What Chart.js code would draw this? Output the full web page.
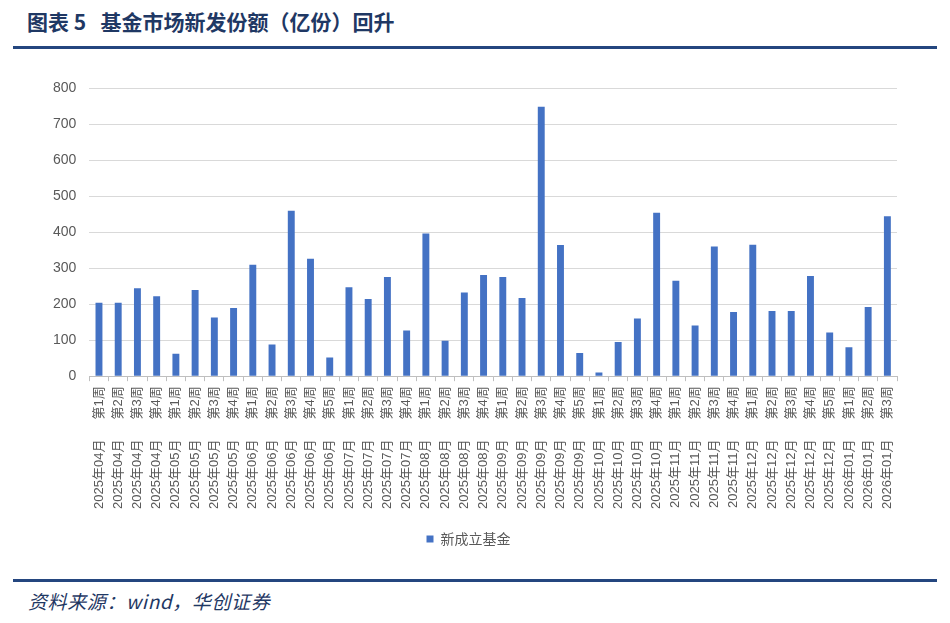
<!DOCTYPE html>
<html>
<head>
<meta charset="utf-8">
<script src="https://cdn.jsdelivr.net/npm/chart.js@4.4.1/dist/chart.umd.min.js"></script>
<style>
  body { margin: 0; background: #fff; width: 950px; height: 623px; overflow: hidden; position: relative; }
  #titulo {
    position: absolute; left: 27px; top: 6px;
    font-family: "Noto Sans CJK SC", sans-serif; font-weight: bold; font-size: 21px;
    color: #1f3864; white-space: pre;
  }
  .linha { position: absolute; left: 13px; width: 924px; height: 3px; background: #24467f; }
  #fonte {
    position: absolute; left: 28px; top: 587px;
    font-family: "Noto Sans CJK SC", serif; font-style: italic; font-size: 19px;
    letter-spacing: 0.6px; color: #1f3864;
  }
  #conteiner { position: absolute; left: 0; top: 60px; width: 950px; height: 500px; }
</style>
</head>
<body>
<div id="titulo">图表 5   基金市场新发份额（亿份）回升</div>
<div class="linha" style="top:46px"></div>
<div id="conteiner"><canvas id="grafico"></canvas></div>
<div class="linha" style="top:579px"></div>
<div id="fonte">资料来源：wind，华创证券</div>

<script>
// dados
const meses = [
  "2025年04月", "2025年04月", "2025年04月", "2025年04月",
  "2025年05月", "2025年05月", "2025年05月", "2025年05月",
  "2025年06月", "2025年06月", "2025年06月", "2025年06月", "2025年06月",
  "2025年07月", "2025年07月", "2025年07月", "2025年07月",
  "2025年08月", "2025年08月", "2025年08月", "2025年08月",
  "2025年09月", "2025年09月", "2025年09月", "2025年09月", "2025年09月",
  "2025年10月", "2025年10月", "2025年10月", "2025年10月",
  "2025年11月", "2025年11月", "2025年11月", "2025年11月",
  "2025年12月", "2025年12月", "2025年12月", "2025年12月", "2025年12月",
  "2026年01月", "2026年01月", "2026年01月",
];
const semanas = [
  "第1周", "第2周", "第3周", "第4周",
  "第1周", "第2周", "第3周", "第4周",
  "第1周", "第2周", "第3周", "第4周", "第5周",
  "第1周", "第2周", "第3周", "第4周",
  "第1周", "第2周", "第3周", "第4周",
  "第1周", "第2周", "第3周", "第4周", "第5周",
  "第1周", "第2周", "第3周", "第4周",
  "第1周", "第2周", "第3周", "第4周",
  "第1周", "第2周", "第3周", "第4周", "第5周",
  "第1周", "第2周", "第3周",
];
const novosFundos = [
  204, 204, 244, 222,
  62, 239, 163, 189,
  309, 88, 459, 326, 52,
  247, 214, 275, 127,
  396, 98, 232, 281,
  275, 217, 748, 364, 64,
  10, 95, 160, 454,
  265, 141, 360, 178,
  365, 181, 181, 278, 121,
  80, 192, 444,
];
const ticksY = [0, 100, 200, 300, 400, 500, 600, 700, 800];

const categorias = meses.map((m, i) => m + "　  " + semanas[i]);
const fonteTexto = "'Liberation Sans', 'Noto Sans CJK SC', sans-serif";
const corTexto = "#595959";

new Chart(document.getElementById("grafico"), {
  type: "bar",
  data: {
    labels: categorias,
    datasets: [
      {
        label: "新成立基金",
        data: novosFundos,
        backgroundColor: "#4472c4",
        barPercentage: 0.72,
        categoryPercentage: 0.5,
      },
    ],
  },
  options: {
    responsive: true,
    maintainAspectRatio: false,
    animation: false,
    layout: { padding: { left: 40, right: 53, top: 28, bottom: 4 } },
    plugins: {
      tooltip: { enabled: false },
      legend: {
        position: "bottom",
        labels: {
          boxWidth: 7,
          boxHeight: 7,
          padding: 18,
          color: corTexto,
          font: { size: 14, family: "'Noto Sans CJK SC', serif" },
        },
      },
    },
    scales: {
      x: {
        grid: {
          offset: true,
          drawOnChartArea: false,
          drawTicks: true,
          tickLength: 5,
          color: "#bfbfbf",
        },
        border: { color: "#bfbfbf" },
        ticks: {
          autoSkip: false,
          maxRotation: 90,
          minRotation: 90,
          padding: 5,
          color: corTexto,
          font: { size: 13, family: fonteTexto },
        },
      },
      y: {
        min: 0,
        max: 800,
        afterBuildTicks: (eixo) => {
          eixo.ticks = ticksY.map((v) => ({ value: v }));
        },
        grid: { color: "#d9d9d9", drawTicks: false },
        border: { display: false },
        ticks: {
          padding: 13,
          color: corTexto,
          font: { size: 14, family: fonteTexto },
        },
      },
    },
  },
});
</script>
</body>
</html>
